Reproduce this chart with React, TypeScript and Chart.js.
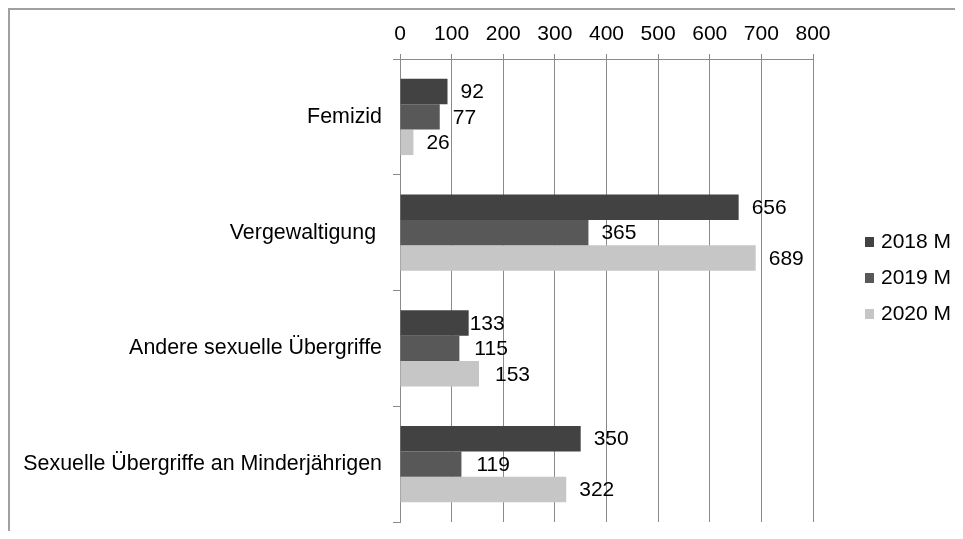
import React, { useEffect, useRef } from "react";
import { Chart, registerables } from "chart.js";

Chart.register(...registerables);

const categories = [
  "Femizid",
  "Vergewaltigung ",
  "Andere sexuelle Übergriffe",
  "Sexuelle Übergriffe an Minderjährigen",
];
const seriesNames = ["2018 M", "2019 M", "2020 M"];
const values2018 = [92, 656, 133, 350];
const values2019 = [77, 365, 115, 119];
const values2020 = [26, 689, 153, 322];
const xTicks = [0, 100, 200, 300, 400, 500, 600, 700, 800];

const COLORS = ["#424242", "#585858", "#c6c6c6"];
const FONT = "Liberation Sans, Arial, sans-serif";
const FONT_SIZE = 21;
const CAT_FONT_SIZE = 21.4;
const GRID = "#8a8a8a";
// small per-label horizontal nudges (datasetIndex-categoryIndex)
const LABEL_NUDGE: Record<string, number> = { "0-2": -12, "1-2": 2, "2-2": 3, "1-3": 2 };

const dataLabelPlugin = {
  id: "dataLabels",
  afterDatasetsDraw(chart: any) {
    const ctx = chart.ctx;
    ctx.save();
    ctx.font = `${FONT_SIZE}px ${FONT}`;
    ctx.fillStyle = "#000";
    ctx.textAlign = "left";
    ctx.textBaseline = "middle";
    chart.data.datasets.forEach((ds: any, di: number) => {
      const meta = chart.getDatasetMeta(di);
      meta.data.forEach((el: any, i: number) => {
        const nudge = LABEL_NUDGE[`${di}-${i}`] || 0;
        ctx.fillText(String(ds.data[i]), el.x + 13 + nudge, el.y + 1);
      });
    });
    ctx.restore();
  },
};

const legendPlugin = {
  id: "customLegend",
  afterDraw(chart: any) {
    const ctx = chart.ctx;
    const right = chart.chartArea.right;
    ctx.save();
    ctx.font = `${FONT_SIZE}px ${FONT}`;
    ctx.textAlign = "left";
    ctx.textBaseline = "middle";
    chart.data.datasets.forEach((ds: any, i: number) => {
      const cy = 232 + i * 36;
      ctx.fillStyle = ds.backgroundColor;
      ctx.fillRect(right + 52, cy - 5, 9, 10);
      ctx.fillStyle = "#000";
      ctx.fillText(ds.label, right + 68, cy);
    });
    ctx.restore();
  },
};

export default function App() {
  const ref = useRef<HTMLCanvasElement | null>(null);
  useEffect(() => {
    if (!ref.current) return;
    const chart = new Chart(ref.current, {
      type: "bar",
      data: {
        labels: categories,
        datasets: [values2018, values2019, values2020].map((d, i) => ({
          label: seriesNames[i],
          data: d,
          backgroundColor: COLORS[i],
          borderWidth: 0,
          categoryPercentage: 0.66,
          barPercentage: 1.0,
        })),
      },
      options: {
        indexAxis: "y",
        responsive: false,
        animation: false,
        layout: { padding: { left: 0, top: 0, right: 150, bottom: 9 } },
        plugins: {
          legend: { display: false },
          tooltip: { enabled: false },
        },
        scales: {
          x: {
            position: "top",
            min: 0,
            max: 800,
            afterBuildTicks(scale: any) {
              scale.ticks = xTicks.map((v) => ({ value: v }));
            },
            afterFit(scale: any) {
              scale.height = 49;
            },
            ticks: {
              color: "#000",
              font: { family: FONT, size: FONT_SIZE },
              padding: 7,
              maxRotation: 0,
              autoSkip: false,
            },
            grid: {
              color: GRID,
              lineWidth: 1,
              tickLength: 5,
              drawTicks: true,
            },
            border: { display: true, color: GRID, width: 1 },
          },
          y: {
            afterFit(scale: any) {
              scale.width = 390;
              scale.paddingTop = 0;
              scale.paddingBottom = 0;
            },
            ticks: {
              color: "#000",
              font: { family: FONT, size: CAT_FONT_SIZE },
              padding: 11,
              autoSkip: false,
            },
            grid: {
              display: true,
              drawOnChartArea: false,
              drawTicks: true,
              tickLength: 7,
              color: GRID,
              offset: true,
            },
            border: { display: true, color: GRID, width: 1 },
          },
        },
      },
      plugins: [dataLabelPlugin, legendPlugin],
    } as any);
    return () => chart.destroy();
  }, []);

  return (
    <div
      style={{
        width: 955,
        height: 523,
        boxSizing: "border-box",
        borderTop: "2px solid #a0a0a0",
        borderLeft: "2px solid #a0a0a0",
        overflow: "hidden",
      }}
    >
      <canvas ref={ref} width={953} height={521} style={{ display: "block" }} />
    </div>
  );
}
